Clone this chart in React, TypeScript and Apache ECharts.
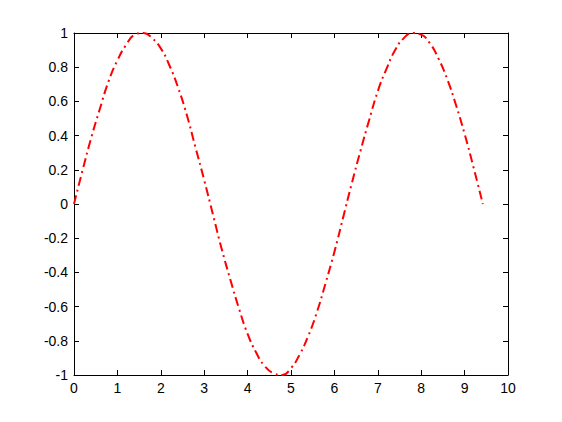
import React, { useEffect, useRef } from "react";
import * as echarts from "echarts";

const xValues = [
  0, 0.2, 0.4, 0.6, 0.8, 1.0, 1.2, 1.4, 1.6, 1.8, 2.0, 2.2, 2.4, 2.6, 2.8, 3.0,
  3.2, 3.4, 3.6, 3.8, 4.0, 4.2, 4.4, 4.6, 4.8, 5.0, 5.2, 5.4, 5.6, 5.8, 6.0,
  6.2, 6.4, 6.6, 6.8, 7.0, 7.2, 7.4, 7.6, 7.8, 8.0, 8.2, 8.4, 8.6, 8.8, 9.0,
  9.2, 9.42,
];
const yValues = [
  0, 0.2, 0.39, 0.56, 0.72, 0.84, 0.93, 0.99, 1.0, 0.97, 0.91, 0.81, 0.68,
  0.52, 0.33, 0.14, -0.06, -0.26, -0.44, -0.61, -0.76, -0.87, -0.95, -0.99,
  -1.0, -0.96, -0.88, -0.77, -0.63, -0.46, -0.28, -0.08, 0.12, 0.31, 0.49,
  0.66, 0.79, 0.9, 0.97, 1.0, 0.99, 0.94, 0.85, 0.73, 0.58, 0.41, 0.22, 0.0,
];

export default function App() {
  const ref = useRef<HTMLDivElement>(null);
  useEffect(() => {
    if (!ref.current) return;
    const chart = echarts.init(ref.current, null, { renderer: "svg" });
    const axisLine = { show: true, onZero: false, lineStyle: { color: "#000", width: 1 } };
    const tick = { show: true, inside: true, length: 5, lineStyle: { color: "#000" } };
    const label = {
      color: "#000",
      fontSize: 14,
      fontFamily: "Liberation Sans, Arial, sans-serif",
    };
    chart.setOption({
      animation: false,
      backgroundColor: "#fff",
      grid: { left: 74, right: 54, top: 33, bottom: 47, containLabel: false },
      xAxis: [
        {
          type: "value",
          min: 0,
          max: 10,
          interval: 1,
          position: "bottom",
          axisLine,
          axisTick: tick,
          axisLabel: { ...label, margin: 6 },
          splitLine: { show: false },
        },
        {
          type: "value",
          min: 0,
          max: 10,
          interval: 1,
          position: "top",
          axisLine,
          axisTick: tick,
          axisLabel: { show: false },
          splitLine: { show: false },
        },
      ],
      yAxis: [
        {
          type: "value",
          min: -1,
          max: 1,
          interval: 0.2,
          position: "left",
          axisLine,
          axisTick: tick,
          axisLabel: {
            ...label,
            margin: 6,
            formatter: (v: number) => {
              const r = Math.round(v * 10) / 10;
              return r === 0 ? "0" : String(r);
            },
          },
          splitLine: { show: false },
        },
        {
          type: "value",
          min: -1,
          max: 1,
          interval: 0.2,
          position: "right",
          axisLine,
          axisTick: tick,
          axisLabel: { show: false },
          splitLine: { show: false },
        },
      ],
      series: [
        {
          type: "line",
          xAxisIndex: 0,
          yAxisIndex: 0,
          data: xValues.map((x, i) => [x, yValues[i]]),
          smooth: true,
          showSymbol: false,
          lineStyle: { color: "#ff0000", width: 2, type: [9, 4, 2, 4] },
        },
      ],
    });
    return () => chart.dispose();
  }, []);
  return <div ref={ref} style={{ width: 562, height: 422, position: "absolute", left: 0, top: 0 }} />;
}
